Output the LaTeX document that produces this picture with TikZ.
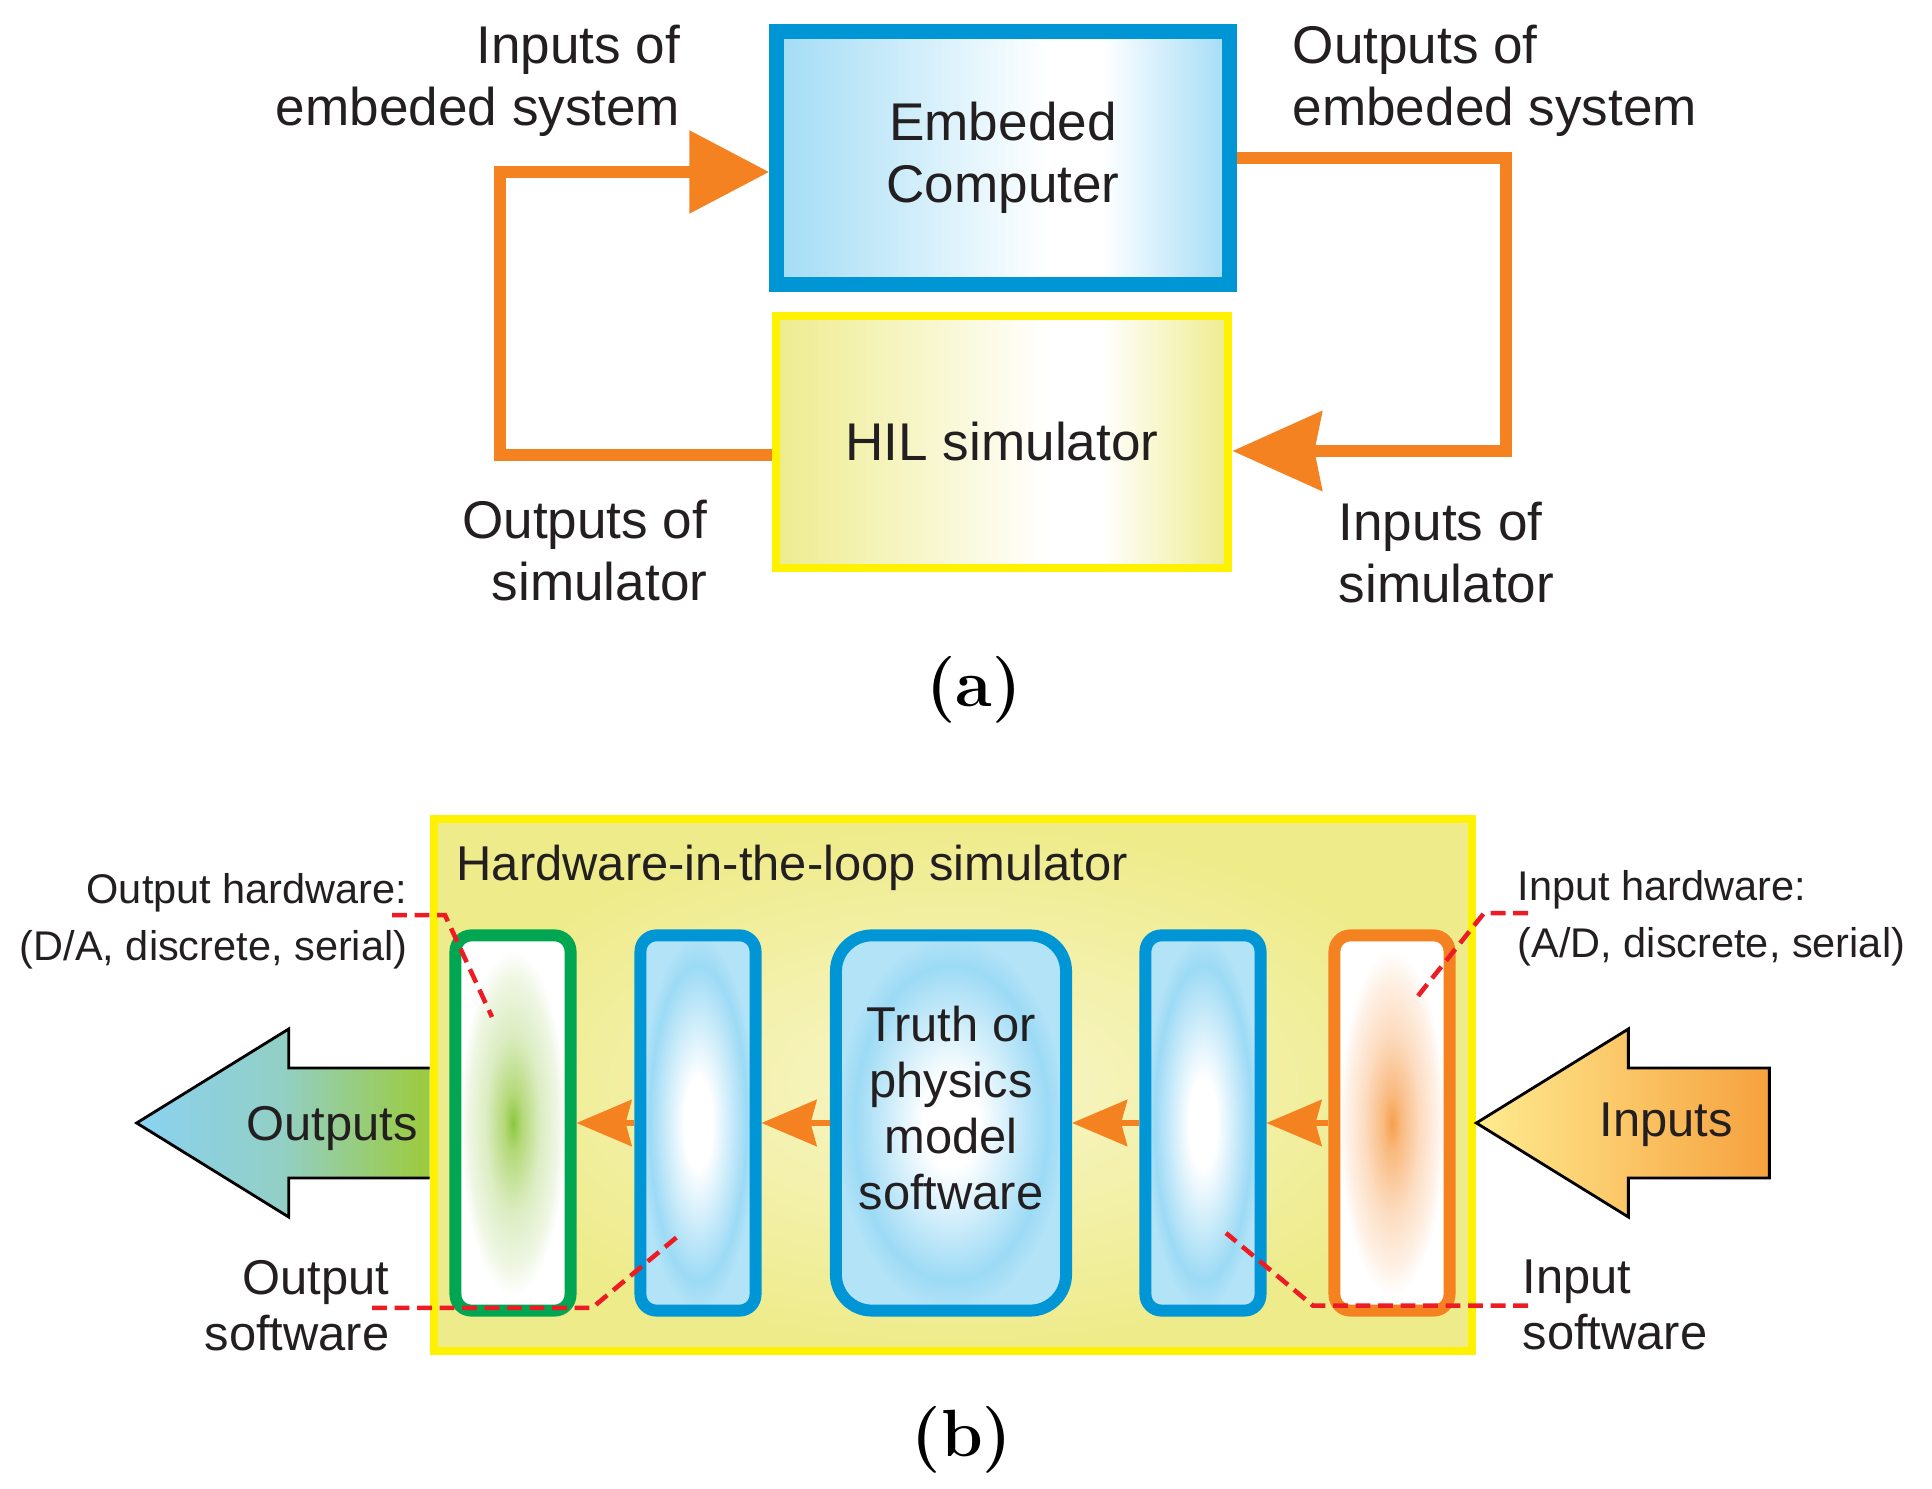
\documentclass[tikz,border=0pt]{standalone}
\usepackage{fontspec}
\setsansfont{Liberation Sans}
\usetikzlibrary{arrows.meta,calc,positioning}

\definecolor{bluebrd}{HTML}{0096D6}
\definecolor{yellowbrd}{HTML}{FFF200}
\definecolor{orangebrd}{HTML}{F58220}
\definecolor{greenbrd}{HTML}{00A651}
\definecolor{dashred}{HTML}{ED1C24}
\definecolor{inktext}{HTML}{231F20}
\definecolor{cyanside}{HTML}{A2DCF5}
\definecolor{limeside}{HTML}{EEEC8E}
\definecolor{cyanmid}{HTML}{9CDAF5}
\definecolor{cyanrim}{HTML}{B3E3F7}
\definecolor{framein}{HTML}{F8F6CA}
\definecolor{frameout}{HTML}{EEEB8A}
\definecolor{outleft}{HTML}{8AD2F2}
\definecolor{outmid}{HTML}{92CFC4}
\definecolor{outright}{HTML}{9CCB3B}
\definecolor{inleft}{HTML}{FFEC90}
\definecolor{inright}{HTML}{F6A13E}

\pgfdeclarehorizontalshading{embfill}{100bp}{color(0bp)=(cyanside); color(25bp)=(cyanside); color(55bp)=(white); color(61bp)=(white); color(75bp)=(cyanside); color(100bp)=(cyanside)}
\pgfdeclarehorizontalshading{hilfill}{100bp}{color(0bp)=(limeside); color(25bp)=(limeside); color(55bp)=(white); color(61bp)=(white); color(75bp)=(limeside); color(100bp)=(limeside)}
\pgfdeclareradialshading{slabblue}{\pgfpoint{0bp}{0bp}}{color(0bp)=(white); color(6bp)=(white); color(21bp)=(cyanmid); color(25bp)=(cyanrim); color(50bp)=(cyanrim)}
\pgfdeclareradialshading{slabgreen}{\pgfpoint{0bp}{0bp}}{color(0bp)=(rgb,255:red,140;green,198;blue,63); color(4bp)=(rgb,255:red,181;green,217;blue,122); color(12bp)=(rgb,255:red,220;green,237;blue,195); color(19bp)=(rgb,255:red,238;green,246;blue,226); color(23bp)=(white); color(50bp)=(white)}
\pgfdeclareradialshading{slaborange}{\pgfpoint{0bp}{0bp}}{color(0bp)=(rgb,255:red,247;green,160;blue,78); color(4bp)=(rgb,255:red,249;green,186;blue,128); color(12bp)=(rgb,255:red,252;green,220;blue,192); color(19bp)=(rgb,255:red,254;green,240;blue,228); color(23bp)=(white); color(50bp)=(white)}

\begin{document}
\begin{tikzpicture}[x=0.01cm,y=-0.01cm,
  bigbox/.style={minimum width=4.52cm,minimum height=2.52cm,inner sep=0pt,text=inktext,font=\sffamily\fontsize{15.1}{17.6}\selectfont,align=center},
  lab/.style={inner sep=0pt,text=inktext,font=\sffamily\fontsize{15.1}{17.8}\selectfont},
  smalllab/.style={inner sep=0pt,text=inktext,font=\sffamily\fontsize{11.8}{16}\selectfont},
  midlab/.style={inner sep=0pt,text=inktext,font=\sffamily\fontsize{13.9}{15.9}\selectfont},
  captag/.style={inner sep=0pt,text=black,font=\bfseries\fontsize{19}{23}\selectfont},
  slab/.style={draw,line width=3.4pt,rounded corners=0.16cm,minimum width=1.15cm,minimum height=3.75cm,inner sep=0pt},
  loopline/.style={draw=orangebrd,line width=3.6pt},
  flowarr/.style={draw=orangebrd,line width=1.7pt,-{Stealth[length=0.55cm,width=0.46cm,inset=0.06cm]}},
  bigarr/.style={draw=black,line width=0.8pt,line join=miter},
  callout/.style={draw=dashred,line width=1.3pt,dash pattern=on 4.2pt off 2.2pt}]

\useasboundingbox (0,0) rectangle (1932,1489);

% (a) computer and simulator in a loop
\node[bigbox,draw=bluebrd,line width=4.3pt,shade,shading=embfill] (emb) at (1003,158) {Embeded\\Computer};
\node[bigbox,draw=yellowbrd,line width=2.4pt,shade,shading=hilfill] (hil) at (1002,442) {HIL simulator};

\coordinate (lft) at (500,300);
\coordinate (rgt) at (1506,300);
\draw[loopline,-{Triangle[length=0.8cm,width=0.8cm]}] ($(hil.west)+(0,13)$) -| (lft) |- ($(emb.west)+(0,14)$);
\draw[loopline,-{Stealth[length=0.89cm,width=0.78cm,inset=0.07cm]}] (emb.east) -| (rgt) |- ($(hil.east)+(0,9)$);

\node[lab,align=right,anchor=north east] (embin) at (681,24) {Inputs of\\embeded system};
\node[lab,align=left,anchor=north west] (embout) at (1292,24) {Outputs of\\embeded system};
\node[lab,align=right,anchor=north east] (simout) at (708,499) {Outputs of\\simulator};
\node[lab,align=left,anchor=north west] (simin) at (1338,501) {Inputs of\\simulator};
\node[captag,anchor=base] (capa) at (974,707) {(a)};

% (b) inside the simulator
\node[draw=yellowbrd,line width=2.3pt,inner color=framein,outer color=frameout,minimum width=10.38cm,minimum height=5.32cm,inner sep=0pt] (frame) at (953,1085) {};
\node[midlab,anchor=base west] (frametitle) at (456,881) {Hardware-in-the-loop simulator};

\node[slab,draw=greenbrd,shade,shading=slabgreen] (ohw) at (513,1123) {};
\node[slab,draw=bluebrd,shade,shading=slabblue] (osw) at (698,1123) {};
\node[slab,draw=bluebrd,shade,shading=slabblue,minimum width=2.3cm,rounded corners=0.36cm,midlab,align=center] (mdl) at (951,1123) {Truth or\\physics\\model\\software\rule[-0.3cm]{0pt}{0.3cm}};
\node[slab,draw=bluebrd,shade,shading=slabblue] (isw) at (1203,1123) {};
\node[slab,draw=orangebrd,shade,shading=slaborange] (ihw) at (1392,1123) {};

\foreach \src/\dst in {ihw/isw,isw/mdl,mdl/osw,osw/ohw}
  \draw[flowarr] (\src.west) -- (\dst.east);

\shade[bigarr,left color=outleft,right color=outright,middle color=outmid] (frame.west |- ohw.center) ++(0,-55) -- ++(-141,0) -- ++(0,-39) -- ++(-152,94) -- ++(152,94) -- ++(0,-39) -- ++(141,0);
\node[midlab,anchor=base] (outs) at (332,1141) {Outputs};
\shade[bigarr,left color=inleft,right color=inright] (frame.east |- ihw.center) -- ++(152,-94) -- ++(0,39) -- ++(141,0) -- ++(0,110) -- ++(-141,0) -- ++(0,39) -- cycle;
\node[midlab,anchor=base] (ins) at (1666,1137) {Inputs};

\node[smalllab,align=right,anchor=north east] (ohwlab) at (408,873) {Output hardware:\\(D/A, discrete, serial)};
\node[smalllab,align=left,anchor=north west] (ihwlab) at (1517,870) {Input hardware:\\(A/D, discrete, serial)};
\node[midlab,align=right,anchor=north east] (oswlab) at (390,1260) {Output\\software};
\node[midlab,align=left,anchor=north west] (iswlab) at (1522,1259) {Input\\software};

\coordinate (ohwpt) at (492,1017);
\coordinate (oswpt) at (677,1237);
\coordinate (iswpt) at (1226,1233);
\coordinate (ihwpt) at (1414,1001);
\draw[callout] (ohwlab.east) ++(-16,-6) -- ++(53,0) -- (ohwpt);
\draw[callout] (ihwlab.west) ++(11,-5) -- ++(-44,0) -- (ihwpt);
\draw[callout] (oswlab.east) ++(-18,2) -- ++(220,0) -- (oswpt);
\draw[callout] (iswlab.west) ++(6,1) -- ++(-215,0) -- (iswpt);

\node[captag,anchor=base] (capb) at (962,1457) {(b)};
\end{tikzpicture}
\end{document}
